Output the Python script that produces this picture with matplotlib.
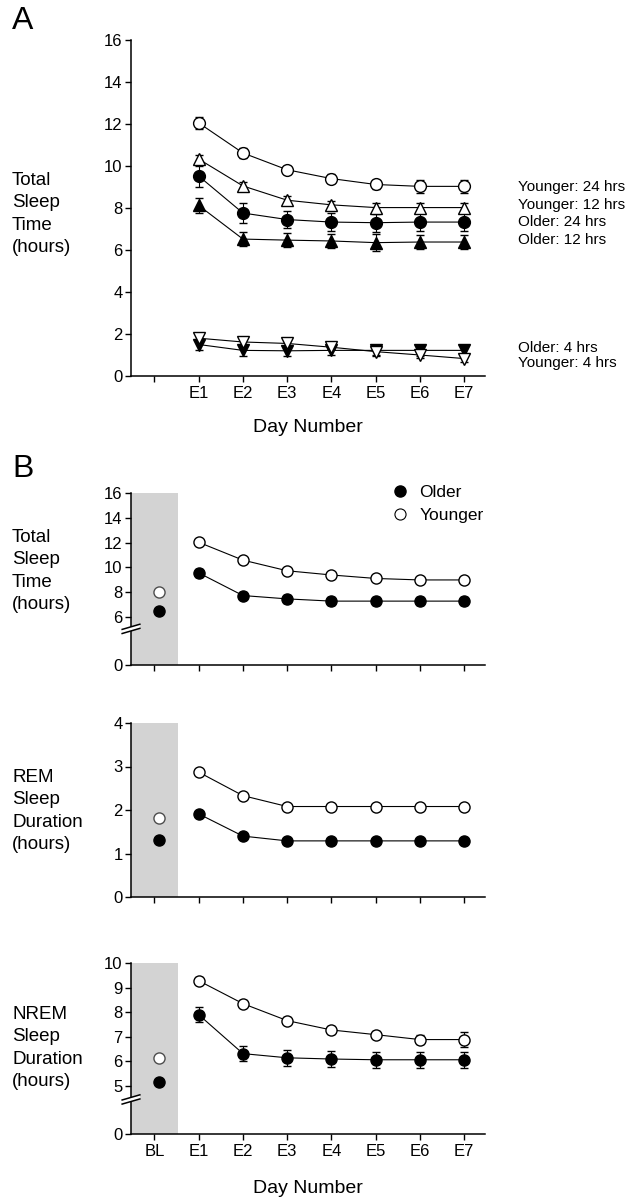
import numpy as np
import matplotlib
matplotlib.use("Agg")
import matplotlib.pyplot as plt
from matplotlib.ticker import NullLocator
from matplotlib.patches import Polygon

plt.rcParams['font.family'] = ['Liberation Sans', 'DejaVu Sans']

# ---- data ----
days = ['E1', 'E2', 'E3', 'E4', 'E5', 'E6', 'E7']
b_ticks = ['BL'] + days

# panel A: total sleep time per schedule
young24 = [12.05, 10.62, 9.82, 9.4, 9.12, 9.03, 9.03]
young24_err = [0.3, 0.22, 0.2, 0.2, 0.2, 0.3, 0.3]
young12 = [10.33, 9.05, 8.37, 8.15, 8.02, 8.02, 8.02]
young12_err = [0.2, 0.2, 0.2, 0.2, 0.2, 0.2, 0.2]
older24 = [9.52, 7.76, 7.45, 7.33, 7.3, 7.33, 7.33]
older24_err = [0.5, 0.48, 0.42, 0.42, 0.42, 0.42, 0.42]
older12 = [8.12, 6.52, 6.47, 6.43, 6.35, 6.38, 6.38]
older12_err = [0.35, 0.35, 0.35, 0.35, 0.4, 0.35, 0.35]
older4 = [1.5, 1.22, 1.2, 1.22, 1.22, 1.22, 1.22]
older4_err = [0.25, 0.25, 0.25, 0.22, 0.25, 0.25, 0.25]
young4 = [1.8, 1.62, 1.55, 1.37, 1.16, 1.0, 0.83]
young4_err = [0.1, 0.1, 0.1, 0.1, 0.15, 0.15, 0.15]

# panel B (BL first, then E1..E7)
tst_old = [6.45, 9.55, 7.72, 7.45, 7.27, 7.27, 7.27, 7.27]
tst_old_err = [0.2, 0.35, 0.3, 0.3, 0.3, 0.3, 0.3, 0.3]
tst_young = [7.97, 12.02, 10.58, 9.72, 9.38, 9.1, 8.98, 8.98]
tst_young_err = [0.2, 0.2, 0.2, 0.2, 0.2, 0.2, 0.2, 0.2]

rem_old = [1.31, 1.91, 1.4, 1.29, 1.29, 1.29, 1.29, 1.29]
rem_old_err = [0.05, 0.06, 0.06, 0.05, 0.05, 0.05, 0.05, 0.05]
rem_young = [1.81, 2.87, 2.33, 2.08, 2.08, 2.08, 2.08, 2.08]
rem_young_err = [0.05, 0.06, 0.06, 0.05, 0.05, 0.05, 0.05, 0.05]

nrem_old = [5.18, 7.9, 6.32, 6.15, 6.1, 6.07, 6.07, 6.07]
nrem_old_err = [0.1, 0.3, 0.32, 0.32, 0.32, 0.32, 0.32, 0.32]
nrem_young = [6.13, 9.28, 8.35, 7.66, 7.28, 7.09, 6.89, 6.89]
nrem_young_err = [0.12, 0.15, 0.15, 0.15, 0.15, 0.15, 0.2, 0.3]

W, H = 627, 1200
fig = plt.figure(figsize=(W / 100, H / 100), dpi=100)

TICK_FS = 12
XLAB_FS = 14
YLAB_FS = 13.5


def rect(x0, y_top, x1, y_bot):
    return [x0 / W, 1 - y_bot / H, (x1 - x0) / W, (y_bot - y_top) / H]


def style(ax):
    for s in ('top', 'right'):
        ax.spines[s].set_visible(False)
    for s in ('left', 'bottom'):
        ax.spines[s].set_linewidth(1.1)
    ax.tick_params(direction='out', length=4, width=1, labelsize=TICK_FS, pad=2)
    ax.tick_params(axis='x', labelsize=12, pad=3)
    ax.yaxis.set_minor_locator(NullLocator())


def broken(lo, k):
    def fwd(v):
        v = np.asarray(v, float)
        return np.where(v < lo, v * k, lo * k + (v - lo))

    def inv(u):
        u = np.asarray(u, float)
        return np.where(u < lo * k, u / k, u - lo * k + lo)
    return fwd, inv


def break_marks(ax, yb):
    dx, dy, gap = 0.05, 0.03, 0.024
    x0, x1 = -dx / 2, dx / 2
    poly = Polygon([(x0, yb - dy / 2), (x1, yb + dy / 2),
                    (x1, yb + dy / 2 + gap), (x0, yb - dy / 2 + gap)],
                   closed=True, transform=ax.transAxes, facecolor='white',
                   edgecolor='none', clip_on=False, zorder=5)
    ax.add_patch(poly)
    for off in (0, gap):
        ax.plot([x0, x1], [yb - dy / 2 + off, yb + dy / 2 + off], color='black',
                lw=1.1, transform=ax.transAxes, clip_on=False, zorder=6)


ekw = dict(color='black', lw=0.8, elinewidth=0.8, capsize=3, capthick=0.8)

# ---------------- panel A ----------------
axA = fig.add_axes(rect(131, 40, 485, 376))
style(axA)
xa = np.arange(1, 8)
seriesA = [
    (young24, young24_err, 'o', 'white'),
    (young12, young12_err, '^', 'white'),
    (older24, older24_err, 'o', 'black'),
    (older12, older12_err, '^', 'black'),
    (older4, older4_err, 'v', 'black'),
    (young4, young4_err, 'v', 'white'),
]
for vals, err, mk, fc in seriesA:
    axA.errorbar(xa, vals, yerr=err, marker=mk, ms=8.5, mfc=fc, mec='black',
                 mew=1, **ekw)
axA.set_xlim(-0.53, 7.47)
axA.set_ylim(0, 16)
axA.set_yticks(np.arange(0, 17, 2))
axA.set_xticks(np.arange(0, 8))
axA.set_xticklabels([''] + days)
axA.set_xlabel('Day Number', fontsize=XLAB_FS, labelpad=13)

fig.text(12 / W, 1 - 6 / H, 'A', fontsize=23, va='top', ha='left')
fig.text(12 / W, 1 - 214 / H, 'Total\nSleep\nTime\n(hours)', fontsize=YLAB_FS,
         va='center', ha='left', linespacing=1.42)

right_labels = [('Younger: 24 hrs', 187), ('Younger: 12 hrs', 205),
                ('Older: 24 hrs', 222), ('Older: 12 hrs', 240),
                ('Older: 4 hrs', 348), ('Younger: 4 hrs', 363)]
for txt, yy in right_labels:
    fig.text(518 / W, 1 - yy / H, txt, fontsize=11, va='center', ha='left')

fig.text(12 / W, 1 - 454 / H, 'B', fontsize=23, va='top', ha='left')

# ---------------- panel B ----------------
xb = np.arange(0, 8).astype(float)
xb_plot = xb.copy()
xb_plot[0] = 0.1

panels = [
    (rect(131, 493, 485, 665), tst_old, tst_old_err, tst_young, tst_young_err,
     (0, 16), [0, 6, 8, 10, 12, 14, 16], broken(6, 0.648), 0.198,
     'Total\nSleep\nTime\n(hours)', 571, True),
    (rect(131, 723, 485, 897), rem_old, rem_old_err, rem_young, rem_young_err,
     (0, 4), [0, 1, 2, 3, 4], None, None,
     'REM\nSleep\nDuration\n(hours)', 811, False),
    (rect(131, 963, 485, 1134), nrem_old, nrem_old_err, nrem_young, nrem_young_err,
     (0, 10), [0, 5, 6, 7, 8, 9, 10], broken(5, 0.389), 0.19,
     'NREM\nSleep\nDuration\n(hours)', 1048, False),
]

for i, (pos, old, old_e, yng, yng_e, ylim, yt, fn, yb, lab, lab_y, leg) in enumerate(panels):
    ax = fig.add_axes(pos)
    if fn is not None:
        ax.set_yscale('function', functions=fn)
    style(ax)
    ax.axvspan(-0.53, 0.53, color='#d3d3d3', lw=0, zorder=0)
    ax.errorbar(xb_plot[1:], yng[1:], yerr=yng_e[1:], marker='o', ms=8,
                mfc='white', mec='black', mew=1, **ekw)
    ax.errorbar(xb_plot[1:], old[1:], yerr=old_e[1:], marker='o', ms=8,
                mfc='black', mec='black', mew=1, **ekw)
    ax.errorbar(xb_plot[:1], yng[:1], yerr=yng_e[:1], marker='o', ms=8,
                mfc='white', mec='0.3', mew=1, ls='none', ecolor='0.45',
                elinewidth=0.7, capsize=3, capthick=0.7)
    ax.errorbar(xb_plot[:1], old[:1], yerr=old_e[:1], marker='o', ms=8,
                mfc='black', mec='black', ls='none', ecolor='black',
                elinewidth=0.7, capsize=3, capthick=0.7)
    ax.set_xlim(-0.53, 7.47)
    ax.set_ylim(*ylim)
    ax.set_yticks(yt)
    ax.set_yticklabels([str(t) for t in yt])
    ax.yaxis.set_minor_locator(NullLocator())
    ax.set_xticks(xb)
    if i == 2:
        ax.set_xticklabels(b_ticks)
        ax.set_xlabel('Day Number', fontsize=XLAB_FS, labelpad=15)
    else:
        ax.set_xticklabels([])
    if yb is not None:
        break_marks(ax, yb)
    fig.text(12 / W, 1 - lab_y / H, lab, fontsize=YLAB_FS, va='center',
             ha='left', linespacing=1.42)
    if leg:
        h1 = ax.plot([], [], 'o', ms=8, mfc='black', mec='black', label='Older')[0]
        h2 = ax.plot([], [], 'o', ms=8, mfc='white', mec='black', mew=0.8,
                     label='Younger')[0]
        ax.legend(handles=[h1, h2], loc='upper right', bbox_to_anchor=(1.02, 1.1),
                  frameon=False, fontsize=12.5, handlelength=1, handletextpad=0.6,
                  labelspacing=0.45, borderpad=0)

fig.savefig('out.png', dpi=100)
